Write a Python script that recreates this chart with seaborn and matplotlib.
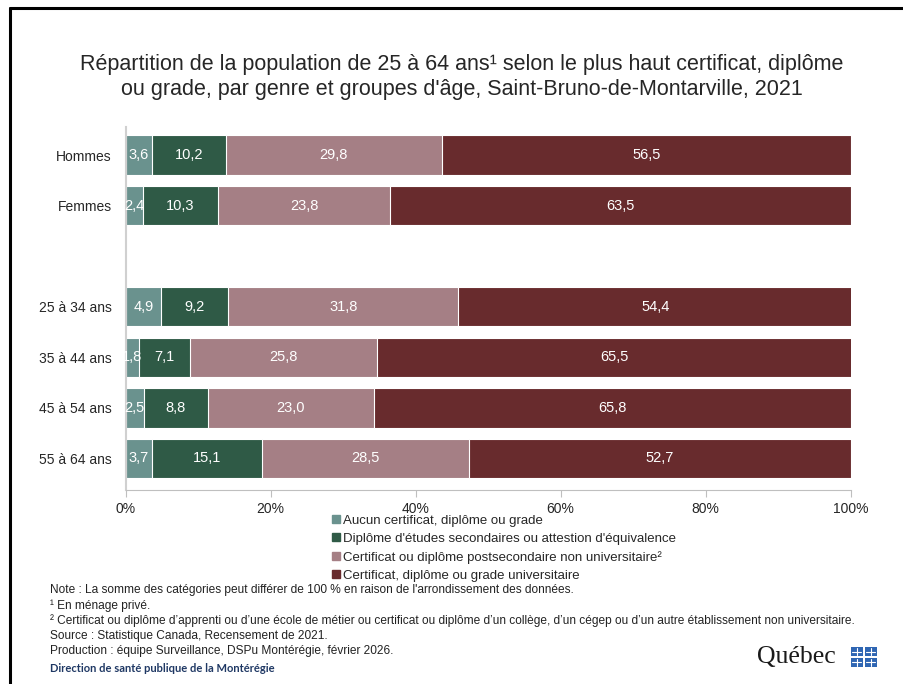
"""
Répartition de la population de 25 à 64 ans selon le plus haut diplôme
Saint-Bruno-de-Montarville, 2021 – barres empilées horizontales
"""

import numpy as np
import pandas as pd
import matplotlib.pyplot as plt
import seaborn as sns
from matplotlib.patches import Rectangle
from matplotlib.lines import Line2D

# ── 1. Données ─────────────────────────────────────────────────────────────────
groupes = ["Hommes", "Femmes", " ", "25 à 34 ans", "35 à 44 ans",
           "45 à 54 ans", "55 à 64 ans"]
aucun      = [3.6, 2.4, np.nan, 4.9, 1.8, 2.5, 3.7]
secondaire = [10.2, 10.3, np.nan, 9.2, 7.1, 8.8, 15.1]
postsec    = [29.8, 23.8, np.nan, 31.8, 25.8, 23.0, 28.5]
univ       = [56.5, 63.5, np.nan, 54.4, 65.5, 65.8, 52.7]

series_noms = [
    "Aucun certificat, diplôme ou grade",
    "Diplôme d'études secondaires ou attestion d'équivalence",
    "Certificat ou diplôme postsecondaire non universitaire²",
    "Certificat, diplôme ou grade universitaire",
]
couleurs = ["#6A928E", "#2F5A46", "#A57F85", "#682B2D"]

x_ticks = [0, 20, 40, 60, 80, 100]
x_labels = ["0%", "20%", "40%", "60%", "80%", "100%"]

titre = ("Répartition de la population de 25 à 64 ans¹ selon le plus haut certificat, diplôme\n"
         "ou grade, par genre et groupes d'âge, Saint-Bruno-de-Montarville, 2021")
notes = [
    "Note : La somme des catégories peut différer de 100 % en raison de l'arrondissement des données.",
    "¹ En ménage privé.",
    "² Certificat ou diplôme d’apprenti ou d’une école de métier ou certificat ou diplôme d’un collège, "
    "d’un cégep ou d’un autre établissement non universitaire.",
    "Source : Statistique Canada, Recensement de 2021.",
    "Production : équipe Surveillance, DSPu Montérégie, février 2026.",
]

# ── 2. Cadre du tableau ────────────────────────────────────────────────────────
df = pd.DataFrame({"groupe": groupes, "aucun": aucun, "secondaire": secondaire,
                   "postsec": postsec, "univ": univ})
valeurs = df[["aucun", "secondaire", "postsec", "univ"]]
cumul = valeurs.cumsum(axis=1)
debut = cumul - valeurs

# ── 3. Figure ──────────────────────────────────────────────────────────────────
sns.set_theme(style="white")
plt.rcParams["font.family"] = ["Liberation Sans", "DejaVu Sans"]

fig = plt.figure(figsize=(9.04, 6.84), dpi=100)
ax = fig.add_axes([0.139, 0.284, 0.802, 0.53])

# barres empilées : on dessine les cumuls de l'arrière vers l'avant
for i in range(3, -1, -1):
    col = cumul.columns[i]
    sns.barplot(data=cumul.assign(groupe=df["groupe"]), x=col, y="groupe",
                order=groupes, orient="h", color=couleurs[i], saturation=1,
                width=0.78, edgecolor="white", linewidth=0.8, ax=ax)

# étiquettes de valeurs
for r, g in enumerate(groupes):
    for i, col in enumerate(valeurs.columns):
        v = valeurs.loc[r, col]
        if np.isnan(v):
            continue
        xc = debut.loc[r, col] + v / 2
        ax.text(xc, r, f"{v:.1f}".replace(".", ","), ha="center", va="center",
                color="white", fontsize=10.5)

ax.set_xlim(0, 100)
ax.set_ylim(6.62, -0.55)
ax.set_xticks(x_ticks)
ax.set_xticklabels(x_labels, fontsize=10)
ax.set_xlabel("")
ax.set_ylabel("")
ax.tick_params(axis="y", length=0, labelsize=10, pad=10)
ax.tick_params(axis="x", length=5, width=0.8, color="#BFBFBF", direction="out",
               bottom=True, pad=4)
for s in ["top", "right"]:
    ax.spines[s].set_visible(False)
ax.spines["left"].set_color("#D0D0D0")
ax.spines["left"].set_linewidth(1.5)
ax.spines["bottom"].set_color("#BFBFBF")
ax.spines["bottom"].set_linewidth(0.8)

# ── 4. Titre, légende, notes ───────────────────────────────────────────────────
fig.text(0.511, 0.887, titre, ha="center", va="center", fontsize=15.5,
         linespacing=1.25)

handles = [Line2D([0], [0], marker="s", linestyle="", markersize=6,
                  markerfacecolor=c, markeredgecolor=c) for c in couleurs]
fig.legend(handles, series_noms, loc="upper left", bbox_to_anchor=(0.366, 0.248),
           frameon=False, fontsize=9.5, handletextpad=0.1, labelspacing=0.45,
           handlelength=0.8, borderaxespad=0, borderpad=0)

y0 = 0.137
for k, ligne in enumerate(notes):
    fig.text(0.055, y0 - k * 0.0222, ligne, fontsize=8.6, va="center",
             color="#222222")

fig.text(0.055, 0.023, "Direction de santé publique de la Montérégie",
         fontsize=8, fontweight="bold", color="#1F3864", va="center",
         family=["Lato", "DejaVu Sans"])

# logo Québec (texte + drapeaux)
fig.text(0.837, 0.04, "Québec", fontsize=18.5, va="center", ha="left",
         family=["Liberation Serif", "DejaVu Serif"], color="#1a1a1a")
for dx in (0, 1):
    for dy in (0, 1):
        x0, y0f = 0.941 + dx * 0.0155, 0.025 + dy * 0.0155
        fig.patches.append(Rectangle((x0, y0f), 0.0135, 0.0135,
                                     transform=fig.transFigure,
                                     facecolor="#2F66B3", edgecolor="none"))
        # petite croix blanche
        fig.add_artist(Line2D([x0 + 0.00675] * 2, [y0f + 0.002, y0f + 0.0115],
                              transform=fig.transFigure, color="white", linewidth=0.8))
        fig.add_artist(Line2D([x0 + 0.002, x0 + 0.0115], [y0f + 0.00675] * 2,
                              transform=fig.transFigure, color="white", linewidth=0.8))

# cadre (haut et gauche)
fig.add_artist(Line2D([0.011, 1.0], [0.988, 0.988], transform=fig.transFigure,
                      color="black", linewidth=2.2))
fig.add_artist(Line2D([0.011, 0.011], [0.0, 0.988], transform=fig.transFigure,
                      color="black", linewidth=2.2))

plt.savefig("out.png", dpi=100)
print("Saved: out.png")
